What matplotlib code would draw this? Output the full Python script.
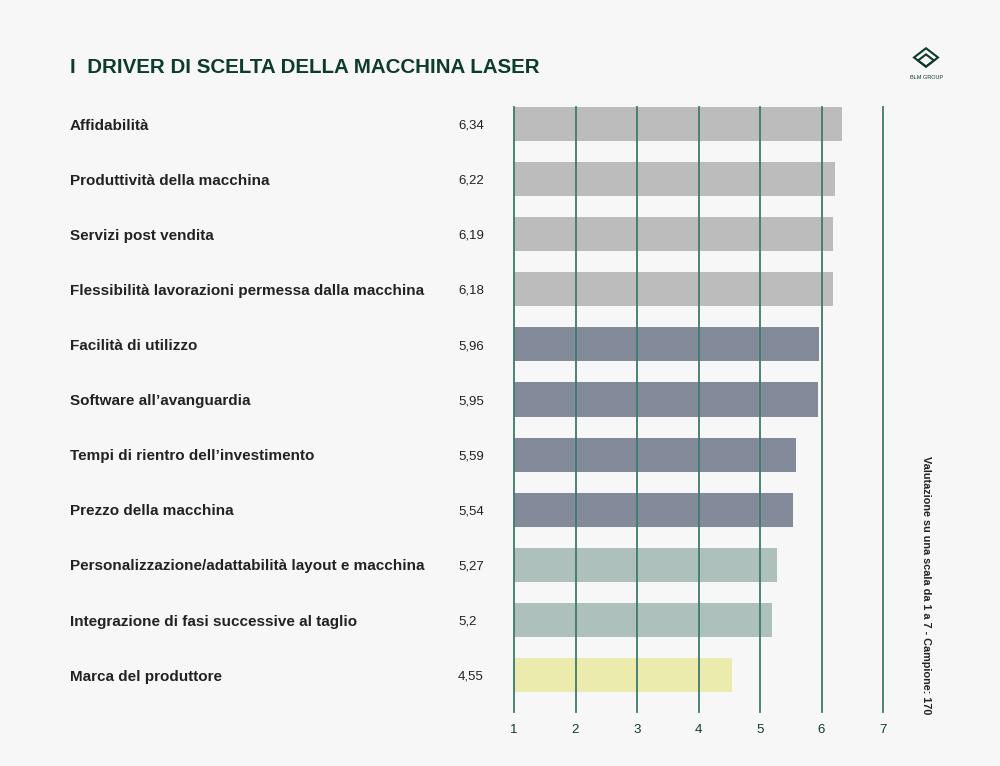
''' driver di scelta della macchina laser '''
import matplotlib.pyplot as plt
import matplotlib.transforms as mtransforms

CATEGORIES = [
    "Affidabilità",
    "Produttività della macchina",
    "Servizi post vendita",
    "Flessibilità lavorazioni permessa dalla macchina",
    "Facilità di utilizzo",
    "Software all’avanguardia",
    "Tempi di rientro dell’investimento",
    "Prezzo della macchina",
    "Personalizzazione/adattabilità layout e macchina",
    "Integrazione di fasi successive al taglio",
    "Marca del produttore",
]
VALUES = [6.34, 6.22, 6.19, 6.18, 5.96, 5.95, 5.59, 5.54, 5.27, 5.2, 4.55]
VALUE_LABELS = ["6,34", "6,22", "6,19", "6,18", "5,96", "5,95",
                "5,59", "5,54", "5,27", "5,2", "4,55"]
GROUPS = [0, 0, 0, 0, 1, 1, 1, 1, 2, 2, 3]
GROUP_COLORS = ["#bcbcbc", "#838a99", "#adc0bc", "#ebebae"]
TICKS = [1, 2, 3, 4, 5, 6, 7]

BG = "#f7f7f7"
GREEN = "#0d3b2e"
GRID = "#3f7a6c"


def main():
    '''main function '''
    plt.rcParams['font.family'] = ['Liberation Sans', 'DejaVu Sans']
    fig = plt.figure(figsize=(10, 7.66), dpi=100, facecolor=BG)
    ax = fig.add_axes([0.514, 0.0705, 0.369, 0.790])
    ax.set_facecolor(BG)

    ypos = list(range(len(CATEGORIES)))
    colors = [GROUP_COLORS[g] for g in GROUPS]
    ax.barh(ypos, [v - 1 for v in VALUES], left=1, height=0.62,
            color=colors, zorder=1)
    for t in TICKS:
        ax.axvline(t, color=GRID, lw=1.3, zorder=3, clip_on=False)

    ax.set_xlim(1, 7)
    ax.set_ylim(10.67, -0.31)
    for s in ax.spines.values():
        s.set_visible(False)
    ax.set_yticks([])
    ax.set_xticks(TICKS)
    ax.set_xticklabels([str(t) for t in TICKS], fontsize=9.5, color=GREEN)
    ax.tick_params(axis='x', length=0, pad=9)

    trans = mtransforms.blended_transform_factory(fig.transFigure, ax.transData)
    for i, (cat, lab) in enumerate(zip(CATEGORIES, VALUE_LABELS)):
        ax.text(0.07, i + 0.03, cat, transform=trans, ha='left', va='center',
                fontsize=11, fontweight='bold', color='#222222')
        ax.text(0.458, i + 0.03, lab, transform=trans, ha='left', va='center',
                fontsize=9.5, color='#222222')

    fig.text(0.07, 0.912, "I  DRIVER DI SCELTA DELLA MACCHINA LASER",
             fontsize=14.8, fontweight='bold', color=GREEN, ha='left',
             va='center')
    fig.text(0.926, 0.236, "Valutazione su una scala da 1 a 7 - Campione: 170",
             rotation=-90, fontsize=7.8, fontweight='bold', color='#222222',
             ha='center', va='center')

    # logo
    lx, ly = 0.926, 0.925
    for k, s in enumerate([0.012, 0.008]):
        fig.add_artist(plt.Polygon(
            [(lx - s, ly - k * 0.004), (lx, ly + s * 1.0 - k * 0.004),
             (lx + s, ly - k * 0.004), (lx, ly - s * 1.0 - k * 0.004)],
            closed=True, fill=False, ec=GREEN, lw=1.5, transform=fig.transFigure))
    fig.text(lx, 0.899, "BLM GROUP", fontsize=4, color=GREEN, ha='center',
             va='center')

    fig.savefig("out.png", dpi=100, facecolor=BG)


if __name__ == "__main__":
    main()
